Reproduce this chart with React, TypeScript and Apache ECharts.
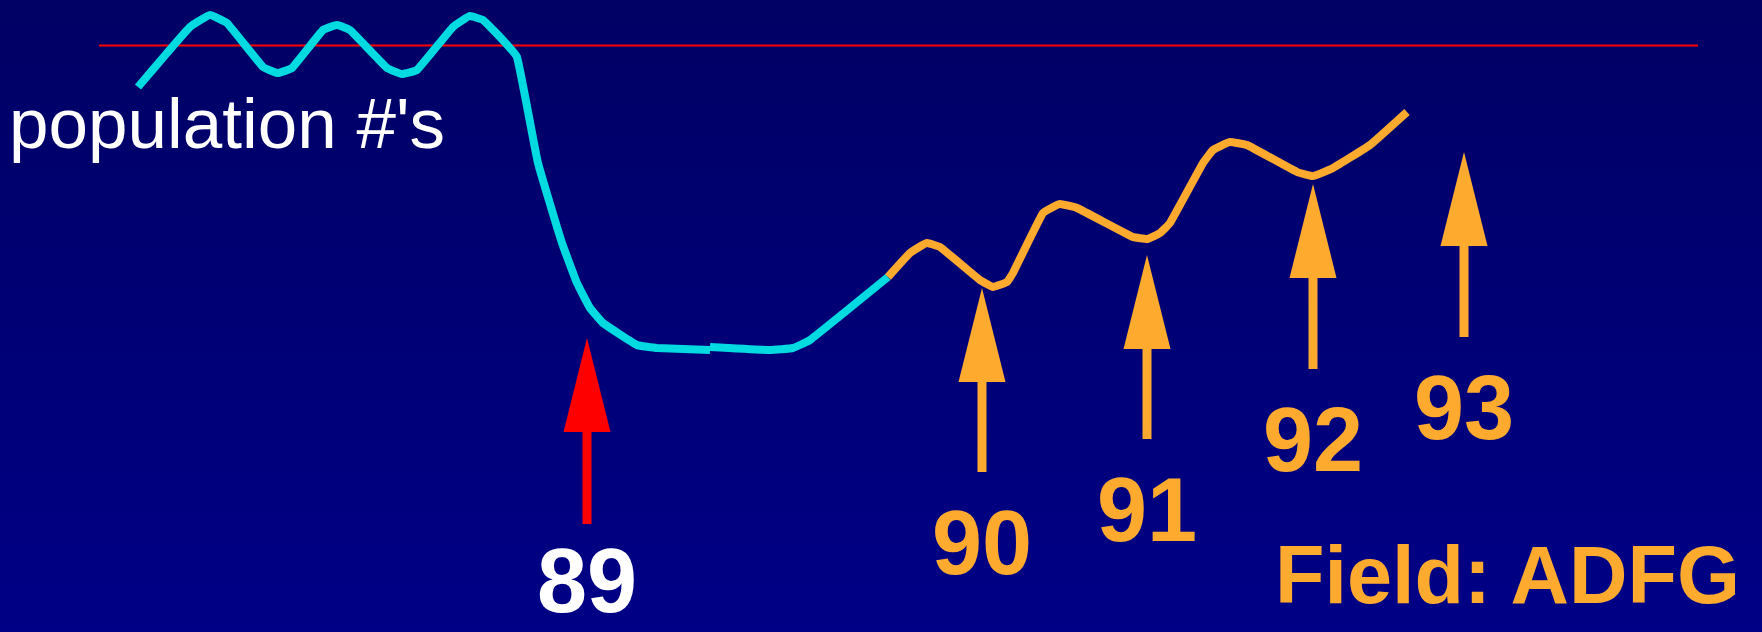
import React, { useEffect, useRef } from "react";
import * as echarts from "echarts";

// time index (x) vs population index (y)
const cyanEarly: [number, number][] = [
  [13.8, 109.0], [16.7, 115.8], [19.0, 121.0], [21.0, 123.4], [22.7, 121.8],
  [26.3, 113.0], [27.8, 111.8], [29.2, 112.8], [32.3, 120.4], [33.7, 121.4],
  [35.0, 120.4], [38.7, 112.8], [40.2, 111.6], [41.7, 112.4], [45.3, 121.0],
  [47.0, 123.2], [48.3, 122.4], [50.0, 119.0], [51.7, 115.0], [53.8, 93.8],
  [56.2, 77.8], [57.7, 69.8], [59.0, 64.8], [60.3, 61.8], [63.7, 57.4],
  [65.7, 56.8], [71.0, 56.4],
];
const cyanLate: [number, number][] = [
  [71.0, 57.0], [77.0, 56.4], [79.3, 56.8], [81.0, 58.4], [88.8, 71.0],
];
const orangeRecovery: [number, number][] = [
  [88.8, 71.0], [91.0, 75.8], [92.7, 77.8], [94.0, 77.0], [98.0, 70.4],
  [99.3, 69.0], [100.7, 70.0], [101.3, 71.8], [104.3, 83.8], [106.0, 85.6],
  [107.7, 84.8], [113.3, 79.0], [114.7, 78.6], [116.0, 79.8], [117.0, 81.8],
  [120.3, 93.8], [121.3, 96.4], [123.0, 98.0], [124.7, 97.4], [129.7, 92.0],
  [131.3, 91.2], [133.3, 92.8], [137.0, 97.4], [140.7, 104.0],
];
const thresholdLine: [number, number][] = [[9.9, 117.3], [169.8, 117.3]];

// arrows: [x, tip value, tail value]
const arrowLabels = ["89", "90", "91", "92", "93"];
const arrowData: [number, number, number][] = [
  [58.7, 58.8, 21.6],
  [98.2, 68.8, 32.0],
  [114.7, 75.4, 38.6],
  [131.3, 89.6, 52.6],
  [146.4, 96.0, 59.0],
];
const arrowColors = ["#FF0000", "#FDAA2F", "#FDAA2F", "#FDAA2F", "#FDAA2F"];
const labelColors = ["#FFFFFF", "#FDAA2F", "#FDAA2F", "#FDAA2F", "#FDAA2F"];

const CYAN = "#00DAE0";
const ORANGE = "#FDAA2F";
const W = 1762;
const H = 632;

export default function App() {
  const ref = useRef<HTMLDivElement>(null);
  useEffect(() => {
    if (!ref.current) return;
    const chart = echarts.init(ref.current, null, { renderer: "svg" });
    const HEAD_LEN = 94;
    const HEAD_HALF = 23.5;
    const SHAFT = 9;
    const lineSeries = (name: string, data: [number, number][], color: string, width: number, z: number, smooth: number) => ({
      name,
      type: "line",
      data,
      symbol: "none",
      showSymbol: false,
      silent: true,
      smooth,
      z,
      lineStyle: { color, width, cap: "butt", join: "round" },
    });
    chart.setOption({
      animation: false,
      backgroundColor: "transparent",
      grid: { left: 0, right: 0, top: 0, bottom: 0 },
      xAxis: { type: "value", min: 0, max: 176.2, show: false },
      yAxis: { type: "value", min: 0, max: 126.4, show: false },
      graphic: [
        {
          type: "rect",
          left: 0,
          top: 0,
          z: -10,
          silent: true,
          shape: { width: W, height: H },
          style: {
            fill: new echarts.graphic.LinearGradient(0, 0, 0, 1, [
              { offset: 0, color: "#000064" },
              { offset: 1, color: "#000086" },
            ]),
          },
        },
        {
          type: "text",
          left: 9,
          top: 88,
          z: 10,
          silent: true,
          style: {
            text: "population #'s",
            fill: "#FFFFFF",
            fontSize: 71,
            fontFamily: "'Liberation Sans', Arial, sans-serif",
            fontWeight: "normal",
          },
        },
        {
          type: "text",
          left: 1275,
          top: 534,
          z: 10,
          silent: true,
          style: {
            text: "Field: ADFG",
            fill: ORANGE,
            fontSize: 81,
            fontFamily: "'Liberation Sans', Arial, sans-serif",
            fontWeight: "bold",
          },
        },
      ],
      series: [
        lineSeries("threshold", thresholdLine, "#FF0000", 2, 1, 0),
        lineSeries("population (early)", cyanEarly, CYAN, 8, 3, 0.1),
        lineSeries("population (late)", cyanLate, CYAN, 8, 3, 0.1),
        lineSeries("population (recovery)", orangeRecovery, ORANGE, 8, 4, 0.1),
        {
          name: "years",
          type: "custom",
          silent: true,
          z: 5,
          data: arrowData,
          renderItem: (params: any, api: any) => {
            const i = params.dataIndex;
            const x = api.value(0);
            const pTip = api.coord([x, api.value(1)]);
            const pTail = api.coord([x, api.value(2)]);
            const baseY = pTip[1] + HEAD_LEN;
            const color = arrowColors[i];
            const textTop = i === 0 ? pTail[1] + 12 : pTail[1] + 26;
            return {
              type: "group",
              children: [
                {
                  type: "polygon",
                  shape: {
                    points: [
                      [pTip[0], pTip[1]],
                      [pTip[0] + HEAD_HALF, baseY],
                      [pTip[0] - HEAD_HALF, baseY],
                    ],
                  },
                  style: { fill: color },
                },
                {
                  type: "rect",
                  shape: { x: pTip[0] - SHAFT / 2, y: baseY - 1, width: SHAFT, height: pTail[1] - baseY + 1 },
                  style: { fill: color },
                },
                {
                  type: "text",
                  x: pTip[0],
                  y: textTop,
                  style: {
                    text: arrowLabels[i],
                    fill: labelColors[i],
                    fontSize: 90,
                    fontWeight: "bold",
                    fontFamily: "'Liberation Sans', Arial, sans-serif",
                    align: "center",
                    verticalAlign: "top",
                  },
                },
              ],
            };
          },
        },
      ],
    });
    return () => chart.dispose();
  }, []);
  return (
    <div
      ref={ref}
      style={{ position: "fixed", left: 0, top: 0, width: W, height: H }}
    />
  );
}
